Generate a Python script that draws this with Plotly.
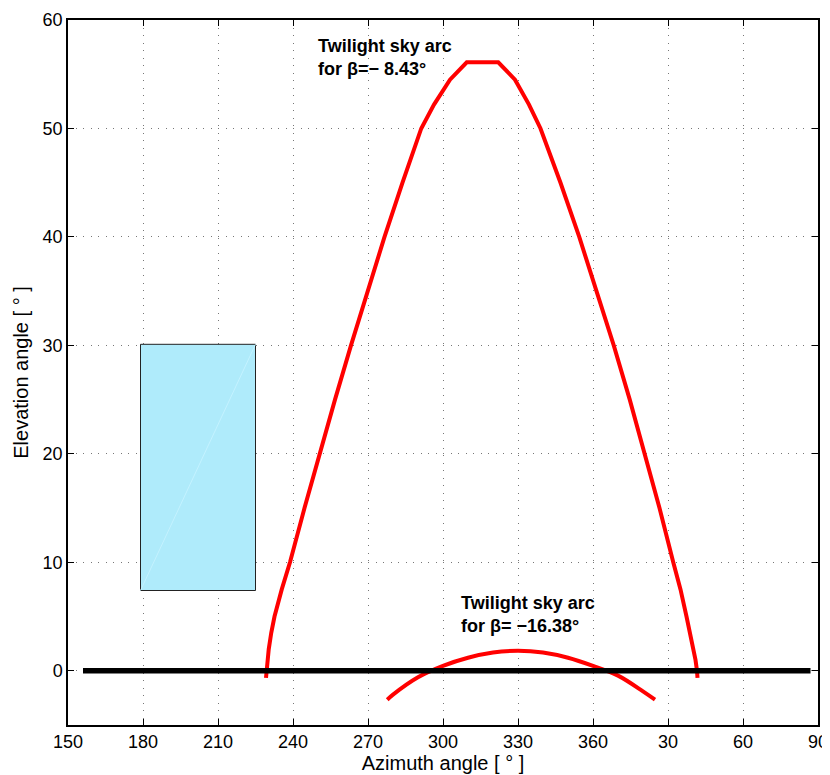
import plotly.graph_objects as go

# ---- data ----
big_arc_az = [229.2, 229.4, 229.8, 230.3, 231.3, 232.6, 235.5, 238.8, 244.6, 250.6, 256.8, 263.2, 269.8,
              276.6, 283.8, 287.4, 291.3, 296.4, 302.8, 309.5, 322.1, 328.8, 334.4, 339.0, 343.0, 347.0,
              354.5, 361.6, 368.3, 374.7, 380.8, 386.6, 392.1, 395.0, 397.4, 398.9, 400.2, 401.0, 401.6, 401.8]
big_arc_el = [-0.65, 0, 1, 2, 3.5, 5, 7.5, 10, 15, 20, 25, 30, 35,
              40, 45, 47.5, 50, 52.2, 54.5, 56.1, 56.1, 54.5, 52.2, 50, 47.5, 45,
              40, 35, 30, 25, 20, 15, 10, 7.5, 5, 3.5, 2, 1, 0, -0.65]

small_arc_az = [277.7, 280, 290, 300, 310, 320, 330, 340, 350, 360, 370, 380, 384.8]
small_arc_el = [-2.67, -2.2, -0.6, 0.45, 1.2, 1.68, 1.84, 1.68, 1.2, 0.45, -0.45, -1.9, -2.67]

horizon_az = [156, 447]
horizon_el = [0, 0]

box_az = [179, 225]
box_el = [7.4, 30.1]

x_ticks = [150, 180, 210, 240, 270, 300, 330, 360, 390, 420, 450]
x_tick_labels = ["150", "180", "210", "240", "270", "300", "330", "360", "30", "60", "90"]
y_ticks = [0, 10, 20, 30, 40, 50, 60]

label_big = "Twilight sky arc<br>for β=− 8.43°"
label_small = "Twilight sky arc<br>for β= −16.38°"
label_big_pos = (249, 56.5)
label_small_pos = (306.5, 5.2)

FONT = "Arial, 'Liberation Sans', Helvetica, sans-serif"

fig = go.Figure()

# light blue rectangle
fig.add_trace(go.Scatter(
    x=[box_az[0], box_az[1], box_az[1], box_az[0], box_az[0]],
    y=[box_el[0], box_el[0], box_el[1], box_el[1], box_el[0]],
    mode="lines", fill="toself", fillcolor="#AFEBFB",
    line=dict(color="#222222", width=1), hoverinfo="skip", showlegend=False))
fig.add_trace(go.Scatter(
    x=[box_az[0], box_az[1]], y=[box_el[0], box_el[1]],
    mode="lines", line=dict(color="#C4F2FF", width=1), hoverinfo="skip", showlegend=False))

# twilight arcs
fig.add_trace(go.Scatter(x=big_arc_az, y=big_arc_el, mode="lines",
                         line=dict(color="#FF0000", width=4), showlegend=False))
fig.add_trace(go.Scatter(x=small_arc_az, y=small_arc_el, mode="lines",
                         line=dict(color="#FF0000", width=4, shape="spline"), showlegend=False))

# horizon line
fig.add_trace(go.Scatter(x=horizon_az, y=horizon_el, mode="lines",
                         line=dict(color="#000000", width=5.5), showlegend=False))

for txt, (ax_, ay_) in [(label_big, label_big_pos), (label_small, label_small_pos)]:
    fig.add_annotation(x=ax_, y=ay_, xref="x", yref="y", text=txt, showarrow=False,
                       xanchor="left", yanchor="middle", align="left",
                       font=dict(family=FONT, size=18, color="black", weight="bold"))

axis_common = dict(
    showline=True, linecolor="black", linewidth=1.5, mirror="allticks",
    ticks="inside", ticklen=6, tickcolor="black", tickwidth=1,
    showgrid=True, gridcolor="#777777", gridwidth=1, griddash="1px,6.5px",
    zeroline=False, tickfont=dict(family=FONT, size=18, color="black"),
)

fig.update_xaxes(range=[150, 450], tickvals=x_ticks, ticktext=x_tick_labels,
                 title=dict(text="Azimuth angle [ ° ]", font=dict(family=FONT, size=20, color="black"),
                            standoff=2),
                 **axis_common)
fig.update_yaxes(range=[-5, 60], tickvals=y_ticks,
                 title=dict(text="Elevation angle [ ° ]", font=dict(family=FONT, size=20, color="black"),
                            standoff=9),
                 **axis_common)

# page body has an 8px margin; size the figure so the plot area lands where the reference has it
fig.update_layout(
    width=822, height=767,
    margin=dict(l=60, r=12, t=12, b=50, autoexpand=False),
    plot_bgcolor="white", paper_bgcolor="white",
    font=dict(family=FONT, color="black"),
    showlegend=False,
)

fig.write_html("out.html")
